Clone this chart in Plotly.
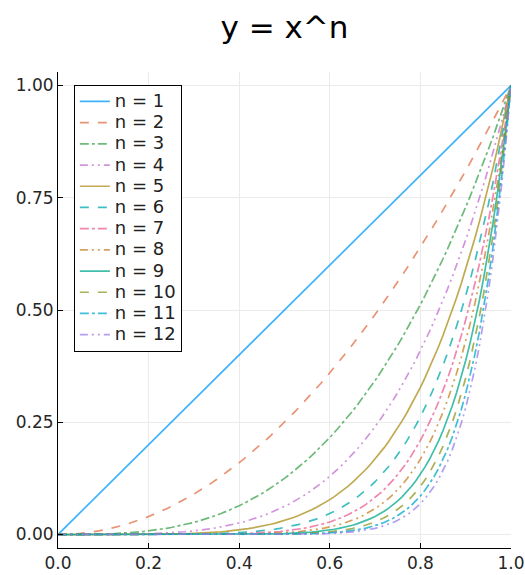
import numpy as np
import plotly.graph_objects as go

# data
n_values = [1, 2, 3, 4, 5, 6, 7, 8, 9, 10, 11, 12]
x_values = np.linspace(0.0, 1.0, 101)
x_ticks = [0.0, 0.2, 0.4, 0.6, 0.8, 1.0]
x_tick_labels = ["0.0", "0.2", "0.4", "0.6", "0.8", "1.0"]
y_ticks = [0.0, 0.25, 0.5, 0.75, 1.0]
y_tick_labels = ["0.00", "0.25", "0.50", "0.75", "1.00"]

colors = ["#009AFA", "#E26F46", "#3DA44E", "#C371D2", "#AC8E18", "#00A9AD",
          "#ED5E93", "#C68225", "#00A98E", "#8E971D", "#00A9CD", "#9B7FE9"]
dashes = ["solid", "dash", "dashdot", "8px,4px,2px,4px,2px,4px"]

fig = go.Figure()
for i, n in enumerate(n_values):
    fig.add_trace(go.Scatter(
        x=x_values, y=x_values ** n, mode="lines",
        name=f"<span style='font-size:18px'>n = {n}</span>",
        line=dict(color=colors[i], width=1.7, dash=dashes[i % 4]),
        opacity=0.75,
    ))

axis_common = dict(
    showgrid=True, gridcolor="#ebebeb", gridwidth=1,
    showline=True, linecolor="black", linewidth=1,
    ticks="inside", ticklen=5, tickcolor="black",
    zeroline=False, mirror=False,
    tickfont=dict(family="DejaVu Sans", size=17, color="#262626"),
)

fig.update_layout(
    width=525, height=575,
    paper_bgcolor="white", plot_bgcolor="white",
    margin=dict(l=58, r=14, t=72, b=27, autoexpand=False),
    title=dict(text="y = x^n", xref="paper", x=0.5, xanchor="center", y=0.952, yanchor="middle",
               font=dict(family="DejaVu Sans", size=31, color="black")),
    xaxis=dict(range=[0, 1], tickvals=x_ticks, ticktext=x_tick_labels, **axis_common),
    yaxis=dict(range=[-0.03, 1.03], tickvals=y_ticks, ticktext=y_tick_labels, **axis_common),
    legend=dict(x=0.035, y=0.973, xanchor="left", yanchor="top",
                bordercolor="black", borderwidth=1, bgcolor="white",
                font=dict(family="DejaVu Sans", size=14, color="#222222"),
                itemwidth=30, tracegroupgap=0),
    showlegend=True,
)

fig.write_html("out.html", config={"displayModeBar": False},
               post_script="document.body.style.margin='0';")
